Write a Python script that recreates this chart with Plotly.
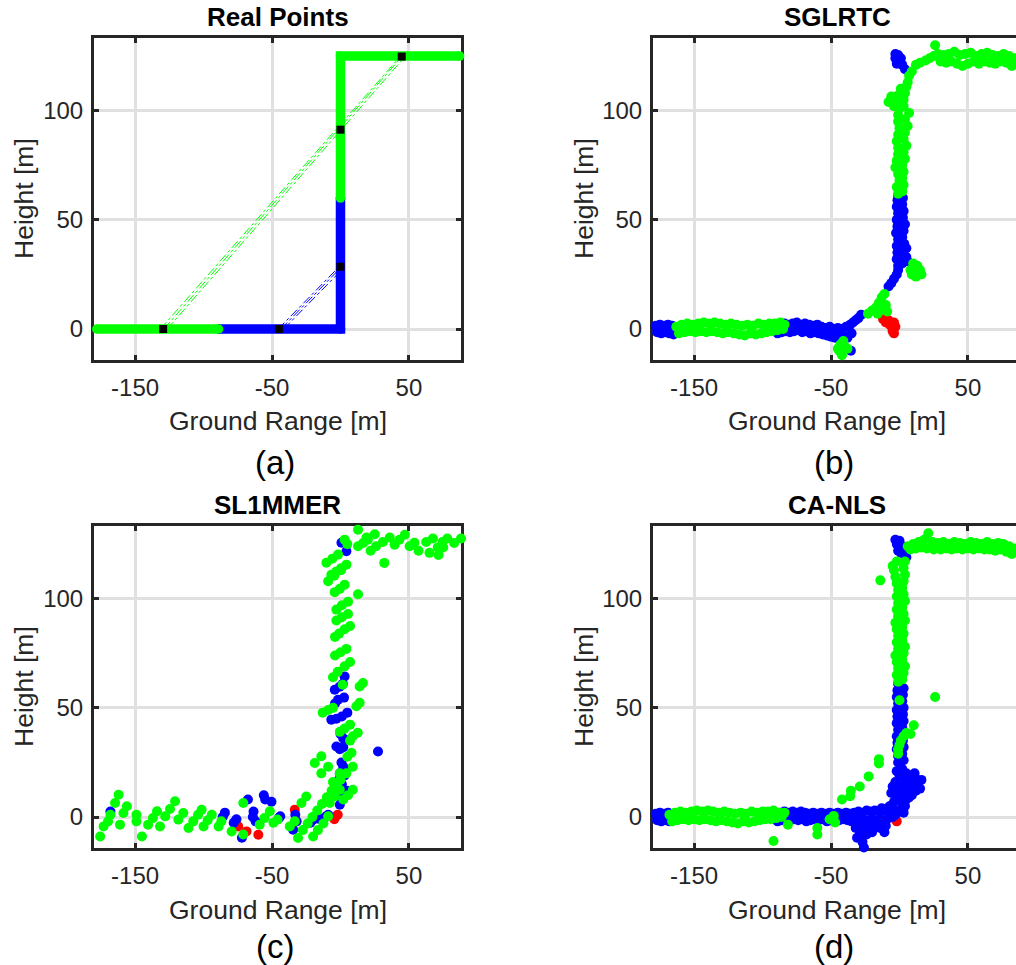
import plotly.graph_objects as go

W, H = 1016, 965

# ---------------- Panel (a): Real Points ----------------
a_green_ground_x = [-178, -89]
a_green_ground_y = [0, 0]
a_blue_x = [-89, 0, 0]
a_blue_y = [0, 0, 60]
a_green_wall_x = [0, 0, 87]
a_green_wall_y = [60, 125, 125]
a_black_x = [-129.5, -45, 0, 0, 44.7]
a_black_y = [0, 0, 28.5, 91.3, 124.8]
a_green_rays_x = [-131.5, 42.5, None, -129, 44.5, None, -126.5, 46]
a_green_rays_y = [0, 124, None, 0, 124.5, None, 0, 124]
a_blue_rays_x = [-45.5, -1, None, -43.5, 0, None, -41.5, 0]
a_blue_rays_y = [0, 28.5, None, 0, 28, None, 0, 26.5]

# ---------------- Panel (b): SGLRTC ----------------
b_red_x = [-12, -10, -8, -7, -5, -4, -4, -3, -5, -6]
b_red_y = [4.5, 3, 4, 2, 0, 3, -2, 1, -1, 1.5]
b_blue_x = [-178, -175, -172, -169, -166, -177, -174, -171, -168, -165,
            -90, -87, -84, -81, -78, -75, -72, -69, -66, -63, -60, -57, -54, -51, -48, -45,
            -42, -39, -36, -34, -32, -30, -28,
            -89, -86, -83, -80, -77, -74, -71, -68, -65, -62, -59, -56, -53, -50, -47, -44,
            -41, -38, -35, -35.5,
            -8, -6, -4, -2, -1,
            -1, -2, -1.5, -2, -1, -2.5, -1.5, -2, -1, -2, -1.5, -1,
            2, 3, 2.5, 3.5, 2, 3, 4, 2.5, 3, 2, 2.5, 5, 6, 5,
            -3, -1, 1, -2, 2, 4, 0, -3]
b_blue_y = [1.5, 2, 1.5, 2, 1.5, -1.5, -2, -1.5, -2, -2.5,
            1, 2, 2.5, 2, 2.5, 3, 2, 2.5, 2, 1.5, 2, 1, 0.5, 1, 0, 0.5,
            0, 1, 2, 3, 4, 5, 6.5,
            -2, -1.5, -1, -1.5, -1, -0.5, -1.5, -1, -2, -1.5, -2, -2.5, -3, -3.5, -4, -3.5,
            -3, -4, -2, -10,
            19.5, 21, 23, 25, 27,
            29, 32, 35, 38, 41, 44, 47, 50, 53, 56, 59, 61,
            30, 33, 36, 39, 42, 45, 48, 51, 54, 57, 60, 33, 31, 37,
            124, 125.5, 124, 121.5, 121, 119, 122, 126]
b_green_x = [-163, -159, -155, -151, -147, -143, -139, -135, -131, -127, -123, -119, -115,
             -111, -107, -103, -99, -95, -91, -87, -84,
             -161, -157, -153, -149, -145, -141, -137, -133, -129, -125, -121, -117, -113,
             -109, -105, -101, -97, -93, -89, -85,
             -44, -42, -40, -43, -41, -38, -45,
             -23, -20, -17, -15, -13, -11, -10, -9, -12, -16,
             8, 10, 13, 15, 12, 9, 16, 11,
             -1, -2, 0, -1, -3, -2, -1, -1, -2, -1, 0, -1, -1, 0, -3, -8, -6, -4, -1, 1,
             2, 3, 2, 3, 2, 4, 3, 5, 3, 4, 6, 4, 7, 3, 3, 4, 5, 6,
             7, 9, 12, 15, 19, 22, 26, 25,
             28, 32, 36, 40, 44, 48, 52, 56, 60, 64, 68, 72, 76, 80, 84,
             30, 34, 38, 42, 46, 50, 54, 58, 62, 66, 70, 74, 78, 82, 86]
b_green_y = [1, 2, 2.5, 2, 2.5, 3, 2.5, 3, 2.5, 2, 2.5, 2, 1.5,
             2, 1.5, 2.5, 2, 2.5, 2.5, 3, 2,
             -2, -1.5, -1, -1.5, -1, -1.5, -1, -1.5, -2, -1.5, -2, -2.5, -3,
             -2, -2.5, -2, -1.5, -1, -0.5, 0,
             -10, -12, -8, -7, -5.5, -9, -9,
             7, 8.5, 10, 12, 14.5, 16, 11, 8, 9, 7,
             27, 30, 29, 27, 24, 25, 25, 27,
             62, 65, 68, 71, 74, 77, 80, 83, 86, 89, 92, 95, 98, 101, 103, 104, 106.5, 102, 107, 110,
             63, 66, 69, 72, 75, 78, 81, 84, 87, 90, 93, 96, 99, 102, 105, 108, 111, 113,
             116, 118, 121, 122, 123, 124, 130, 125,
             126, 125.5, 126, 127, 125.5, 126, 126.5, 125, 126, 126.5, 125.5, 125, 126, 125, 124,
             122.5, 122, 122.5, 121.5, 120.5, 121.5, 122.5, 121.5, 122.5, 122, 121.5, 122.5, 122, 120.5, 119.5]

# ---------------- Panel (c): SL1MMER ----------------
c_red_x = [-74.7, -68.6, -60, -33.4, -4, -2, -4.5]
c_red_y = [-4.3, -6.6, -8.1, 3.3, 0, 1, -1]
c_blue_x = [-168, -84.4, -86, -76, -78, -67.6, -63.5, -62, -64, -56, -55, -50.4, -44, -45,
            -33, -32, -72, -34.6, -22, -20, -11, -9, -0.5, 3, -15, -11,
            2, 4.3, 3, 1.7, -4.2, -0.6, -1.8, 2.6, -4, -6.7, -3, 1, 5, -0.5, 1.6, 0.7, 4.3, 2,
            1, -1, 3, 5, -2, 1, -3, -0.5, 0, 2, 0.7, 4.3, 2, 27.4]
c_blue_y = [2.5, 2, 0, -1, -2.6, 8, 2.5, -2, 0, 10, 8, 7, 0.3, -0.5,
            1, -2, -9.5, -5.8, -2.6, -1.2, 0, 1, 5.6, 10.2, -1, 0,
            32, 35, 64.4, 61, 58.3, 59.7, 53.7, 54.7, 52, 44.6, 45, 46, 47.8, 31, 32, 25, 21.7, 23,
            15, 17, 19, 12, 10, 9, 32.3, 20, 38, 36, 125.6, 121.7, 126, 30]
c_green_x = [-175.5, -173, -169.7, -168, -164.6, -162, -161, -158.5, -156, -149, -149, -145,
             -140.5, -137, -134, -131.8, -128, -124.5, -120.8, -118.4, -114.8, -111, -107.5,
             -104, -101.4, -100, -97, -94, -89, -87, -79.5, -71, -71, -59, -55.5, -51.6, -49,
             -46, -37, -33.4,
             -31, -27.5, -24, -20.5, -17, -13.5, -10, -6.5, -3, 0,
             -28.5, -25, -20, -16.5, -12.5, -9, -7.8, -4, -0.5, 2, 5.5, 9,
             -18.8, -14, -14, -9, -5.5, -0.5, 4.3, 9, 5, 8, 7, 9, 12.6, -0.5, 3, 7,
             14, 11.6, 16.4, 14, -13, -9, -5.5, 1.6,
             -5.5, -2, 3, 7, -4, 0, 4.3, -4, -1, 3, 7, -3, 1, 5.5, -3, 1, 5.5,
             -4.2, -0.5, 3, 12.8, -6.7, -3, 0.5, 4.3, -10.3, -6, -1.8, -9, -4.5, 0.4,
             12.8, 19, 25, 12.8, 16.5, 20, 31, 36, 22, 26, 32, 39.5, 43, 47, 50.5, 54,
             62.6, 67.5, 65, 71, 71.6, 75, 74.5, 78, 83, 88, 3, 5, 57]
c_green_y = [-8.9, -4.3, -2, 1, 6.4, 10.2, -3.5, 1.8, 4.9, 1, -2, -8.9,
             -3.5, -0.5, 2.6, -4.3, 0.3, 3.7, 7.2, -1.2, 1.8, -5, -2,
             1, 3.3, -4.3, -1.5, 1, -4.3, -2, -6.6, 6.4, -8, -3.5, -0.5, 2.6, -2.6,
             -1.2, -4.3, -2,
             -9.6, -6, -3, 0, 3, 6, 9, 12, 15, 17,
             6.4, 9.4, -8.9, -6, -3, 0.3, 6.4, 9.5, 12.5, 8, 10, 12.5,
             24.7, 27.8, 20, 23, 16, 20, 20, 23, 27.6, 29.4, 35, 37, 38.6, 39, 40.5, 42.3,
             52.3, 50.7, 61.4, 59.8, 47.8, 49, 50, 60.6,
             64, 66.5, 69, 71, 74, 75.5, 77, 82.5, 84, 86, 87.5, 90, 91.5, 93, 95, 97, 98.6,
             103, 104.5, 106.4, 102, 111, 112.5, 114, 115.6, 116.5, 118.3, 120.2, 108, 110.5, 113,
             131.6, 128, 129.5, 124, 125.5, 127, 126, 128, 122, 124, 116.4, 124.7, 127, 129.3, 124, 125.6,
             126, 127.6, 121, 123.5, 120, 123.5, 126, 127.6, 125.5, 127.6, 127, 125, 122]

# ---------------- Panel (d): CA-NLS ----------------
d_red_x = [-6, -3, -4, -2]
d_red_y = [3, -1, 1, -2]
d_blue_x = [-178, -175, -172, -169, -177, -174, -171, -168,
            -90, -87, -84, -81, -78, -75, -72, -69, -66, -63, -60, -57, -54, -51, -48, -45,
            -42, -39, -36, -33, -30, -27, -24, -21, -18, -15, -13, -11, -9, -7,
            -89, -86, -83, -80, -77, -74, -71, -68, -65, -62, -59, -56, -53, -50, -47, -44,
            -41, -38, -35, -32, -29, -26, -23, -20, -17, -14, -11, -8, -5,
            -32, -29, -26, -23, -20, -17, -14, -10, -11, -31, -27, -26, -24, -28,
            -8, -5, -3, 0, 3, -4, -1, 2, 5, -6, -2, 1, 4, 7, 10, 13, 16, 15, 12, 9, 6, 3, 0,
            -3, -2, 2, 5, -1, 3, 8, 11, -7, -5, 4, 7,
            -1, -2, -1.5, -2, -1, -2, -1.5, -2, -1, -2, -1.5, -1,
            2, 3, 2.5, 3, 2, 3, 2.5, 3, 2, 2.5, 3,
            -2, 0, 2, -1, 3, 5, -3, 1]
d_blue_y = [1.5, 2, 1.5, 2, -1.5, -2, -1.5, -2,
            1, 2, 2.5, 2, 2.5, 2, 2.5, 2, 1.5, 2, 1.5, 2, 1.5, 2, 1.5, 2,
            1.5, 2, 1.5, 2, 2.5, 2, 3, 2.5, 3, 2.5, 4, 3, 4, 3,
            -2, -1.5, -1, -1.5, -1, -1.5, -1, -2, -1.5, -1, -1.5, -1, -2, -1.5, -1, -1.5,
            -1, -1.5, -2, -1.5, -1, -2, -1.5, -1, -1.5, -1, -1.5, -0.5, 0,
            -5, -4, -6, -4.5, -7, -4, -5, -4, -7, -9.5, -11.5, -14, -8, -7,
            2, 4, 1, 3, 2, 7, 9, 6, 8, 11, 12, 14, 11, 13, 15, 17, 17, 13, 12, 10, 16, 18, 19,
            16, 21, 22, 20, 25, 26, 19, 20, 5, 14, 5, 9,
            28, 31, 34, 37, 40, 43, 46, 49, 52, 55, 58, 61,
            29, 32, 35, 38, 41, 44, 47, 50, 53, 56, 59,
            125, 126.5, 124, 122, 121, 119, 127, 121]
d_green_x = [-168, -164, -160, -156, -152, -148, -144, -140, -136, -132, -128, -124, -120,
             -116, -112, -108, -104, -100, -96, -92, -88, -84,
             -166, -162, -158, -154, -150, -146, -142, -138, -134, -130, -126, -122, -118,
             -114, -110, -106, -102, -98, -94, -90, -86,
             -81.5, -92, -60, -60, -51, -48, -47,
             -42, -36, -35.5, -29, -22.5, -15, -15,
             -1, 0, 1, 3, 5, -1, 10.4, 8, 0, 26,
             -1, -2, -1, -2, -3, -1, -2, -1, -2, -3, -1, -2, -1, -2, -1, -2, -3, -4, -5, -2,
             2, 3, 4, 2, 3, 4, 2, 3, 2, 4, 3, 2, 4, 3, 2, 3, 4, 3, 4,
             -14,
             6, 10, 14, 18, 21, 24, 28, 32, 36, 40, 44, 48, 52, 56, 60, 64, 68, 72, 76, 80, 84,
             8, 12, 16, 20, 25, 30, 34, 38, 42, 46, 50, 54, 58, 62, 66, 70, 74, 78, 82]
d_green_y = [1, 2, 2.5, 2, 2.5, 3, 2.5, 3, 2.5, 2, 2.5, 2, 1.5,
             2, 1.5, 2.5, 2, 2.5, 2.5, 3, 2, 2,
             -2, -1.5, -1, -1.5, -1, -1.5, -1, -1.5, -2, -1.5, -2, -2.5, -3,
             -2, -2.5, -2, -1.5, -1, -1, -0.5, 0,
             -3.5, -11, -5, -8, -1, 0.5, -2.5,
             8, 9.5, 12, 14, 18.6, 24.5, 26.5,
             31, 33, 35, 37, 38.5, 29, 42, 38, 53.5, 55,
             62, 65, 68, 71, 74, 77, 80, 83, 86, 89, 92, 95, 98, 101, 104, 107, 110, 113, 115, 117,
             63, 66, 69, 72, 75, 78, 81, 84, 87, 90, 93, 96, 99, 102, 105, 108, 111, 114, 117,
             108.4,
             124, 125, 126, 127, 130, 126, 125.5, 126, 125, 126, 125.5, 125, 126, 125.5, 125, 126,
             125, 125.5, 125, 124, 123,
             122.5, 123, 123.5, 123, 122.5, 122.5, 123, 122.5, 123, 122.5, 123, 122.5, 123, 122.5,
             122.5, 122, 122.5, 121.5, 120.5]

titles = ["Real Points", "SGLRTC", "SL1MMER", "CA-NLS"]
sub_labels = ["(a)", "(b)", "(c)", "(d)"]
x_ticks = [-150, -50, 50]
x_tick_text = ["-150", "-50", "50"]
y_ticks = [0, 50, 100]
y_tick_text = ["0", "50", "100"]
x_label = "Ground Range [m]"
y_label = "Height [m]"

BLUE, GREEN, RED = "#0000ff", "#00ff00", "#ff0000"
MS = 10
LW = 9.5
FONT = "Liberation Sans, Arial, Helvetica, sans-serif"

fig = go.Figure()


def pts(x, y, color, ax, size=MS, symbol="circle"):
    fig.add_trace(go.Scatter(x=x, y=y, mode="markers", xaxis=ax[0], yaxis=ax[1],
                             marker=dict(color=color, size=size, symbol=symbol, line=dict(width=0)),
                             cliponaxis=False, showlegend=False, hoverinfo="skip"))


def thick(x, y, color, ax):
    fig.add_trace(go.Scatter(x=x, y=y, mode="lines+markers", xaxis=ax[0], yaxis=ax[1],
                             line=dict(color=color, width=LW),
                             marker=dict(color=color, size=LW, line=dict(width=0)),
                             cliponaxis=False, showlegend=False, hoverinfo="skip"))


def rays(x, y, color, ax):
    fig.add_trace(go.Scatter(x=x, y=y, mode="lines", xaxis=ax[0], yaxis=ax[1],
                             line=dict(color=color, width=1, dash="dashdot"),
                             showlegend=False, hoverinfo="skip"))


A = ("x", "y"); B = ("x2", "y2"); C = ("x3", "y3"); D = ("x4", "y4")

# (a)
thick(a_blue_x, a_blue_y, BLUE, A)
thick(a_green_ground_x, a_green_ground_y, GREEN, A)
thick(a_green_wall_x, a_green_wall_y, GREEN, A)
rays(a_green_rays_x, a_green_rays_y, GREEN, A)
rays(a_blue_rays_x, a_blue_rays_y, BLUE, A)
pts(a_black_x, a_black_y, "#000000", A, size=8, symbol="square")
# (b)
pts(b_red_x, b_red_y, RED, B)
pts(b_blue_x, b_blue_y, BLUE, B)
pts(b_green_x, b_green_y, GREEN, B)
# (c)
pts(c_red_x, c_red_y, RED, C)
pts(c_blue_x, c_blue_y, BLUE, C)
pts(c_green_x, c_green_y, GREEN, C)
# (d)
pts(d_red_x, d_red_y, RED, D)
pts(d_blue_x, d_blue_y, BLUE, D)
pts(d_green_x, d_green_y, GREEN, D)

# ---------- layout (pixel geometry) ----------
def fx(px):
    return px / W


def fy(py):
    return 1 - py / H


dom_x = {"L": [fx(94), fx(461)], "R": [fx(653), 1.0]}
dom_y = {"T": [fy(360), fy(38)], "B": [fy(848), fy(526)]}
x_rng = {"L": [-180, 88], "R": [-180, -180 + 363 / (367 / 268)]}
y_rng = [-14.2, 133.3]

tickfont = dict(family=FONT, size=24, color="#262626")
common = dict(showline=True, linecolor="#262626", linewidth=3, ticks="inside", ticklen=5,
              tickwidth=3, tickcolor="#262626", showgrid=True, gridcolor="#e0e0e0",
              gridwidth=2.5, zeroline=False, tickfont=tickfont, layer="below traces",
              fixedrange=True)

panels = [("", "L", "T"), ("2", "R", "T"), ("3", "L", "B"), ("4", "R", "B")]
lay = {}
for sfx, col, row in panels:
    lay["xaxis" + sfx] = dict(common, domain=dom_x[col], range=x_rng[col], tickvals=x_ticks,
                              ticktext=x_tick_text, mirror="ticks", anchor="y" + sfx,
                              ticklabelstandoff=4)
    lay["yaxis" + sfx] = dict(common, domain=dom_y[row], range=y_rng, tickvals=y_ticks,
                              ticktext=y_tick_text, mirror=("ticks" if col == "L" else False),
                              anchor="x" + sfx, ticklabelstandoff=3)

annos = []
centers_x = {"L": 277.5, "R": 837}
rows_y = {"T": dict(title=17, xl=421, sub=462, yl=199), "B": dict(title=505, xl=910, sub=946, yl=687)}
ylab_x = {"L": 24, "R": 584}
for i, (sfx, col, row) in enumerate(panels):
    cx = centers_x[col]
    r = rows_y[row]
    annos.append(dict(text="<b>" + titles[i] + "</b>", x=fx(cx), y=fy(r["title"]), xref="paper",
                      yref="paper", showarrow=False, xanchor="center", yanchor="middle",
                      font=dict(family=FONT, size=26, color="#000000")))
    annos.append(dict(text=x_label, x=fx(cx), y=fy(r["xl"]), xref="paper", yref="paper",
                      showarrow=False, xanchor="center", yanchor="middle",
                      font=dict(family=FONT, size=26.5, color="#262626")))
    annos.append(dict(text=sub_labels[i], x=fx(cx - 3), y=fy(r["sub"]), xref="paper", yref="paper",
                      showarrow=False, xanchor="center", yanchor="middle",
                      font=dict(family=FONT, size=33, color="#000000")))
    annos.append(dict(text=y_label, x=fx(ylab_x[col]), y=fy(r["yl"]), xref="paper", yref="paper",
                      showarrow=False, xanchor="center", yanchor="middle", textangle=-90,
                      font=dict(family=FONT, size=26.5, color="#262626")))

fig.update_layout(width=W, height=H, margin=dict(l=0, r=0, t=0, b=0), autosize=False,
                  paper_bgcolor="white", plot_bgcolor="white", annotations=annos,
                  showlegend=False, **lay)

fig.write_html("out.html", config={"displayModeBar": False})
